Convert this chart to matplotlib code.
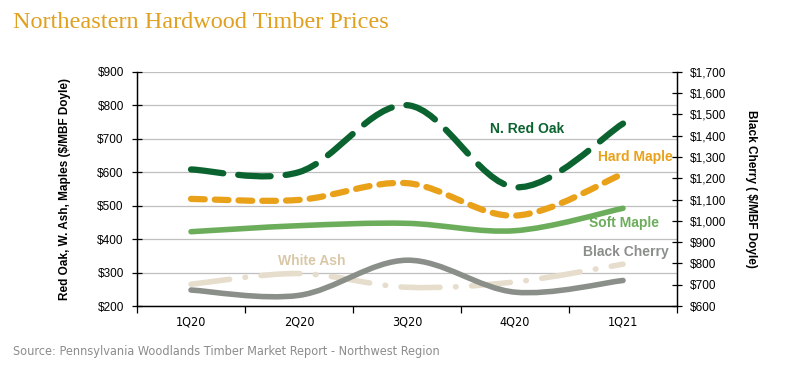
import matplotlib
matplotlib.use('Agg')
import matplotlib.pyplot as plt
import numpy as np
from matplotlib.path import Path
from matplotlib.patches import PathPatch
from matplotlib.ticker import FixedLocator, FuncFormatter

# datos
quarters = ['1Q20', '2Q20', '3Q20', '4Q20', '1Q21']
red_oak = [608, 600, 800, 555, 745]
hard_maple = [520, 517, 567, 470, 595]
soft_maple = [422, 440, 447, 425, 492]
white_ash = [265, 297, 256, 272, 325]
black_cherry = [675, 650, 815, 665, 720]  # eje derecho

# estilos
C_OAK = '#0B6430'
C_HARD = '#E9A11A'
C_SOFT = '#6CAD5C'
C_ASH = '#E6DDCC'
C_CHERRY = '#8A8F8A'

plt.rcParams['font.family'] = ['Liberation Sans', 'DejaVu Sans']


# curva suavizada tipo Excel (bezier tipo catmull-rom)
def smooth_path(ys):
    xs = np.arange(1, len(ys) + 1, dtype=float)
    pts = np.column_stack([xs, np.asarray(ys, dtype=float)])
    p = np.vstack([pts[0], pts, pts[-1]])
    verts = [pts[0]]
    codes = [Path.MOVETO]
    for i in range(1, len(pts)):
        p0, p1, p2, p3 = p[i - 1], p[i], p[i + 1], p[i + 2]
        verts += [p1 + (p2 - p0) / 6, p2 - (p3 - p1) / 6, p2]
        codes += [Path.CURVE4] * 3
    return Path(verts, codes)


def draw(ax, ys, color, lw, dashes=None):
    patch = PathPatch(smooth_path(ys), fill=False, edgecolor=color, lw=lw,
                      capstyle='round', joinstyle='round')
    if dashes:
        patch.set_linestyle((0, dashes))
    ax.add_patch(patch)


fig = plt.figure(figsize=(7.98, 3.69), dpi=100)
ax = fig.add_axes([0.1717, 0.1707, 0.6767, 0.635])
ax2 = ax.twinx()

ax.set_xlim(0.5, 5.5)
ax.set_ylim(200, 900)
ax2.set_ylim(600, 1700)

ax.yaxis.set_major_locator(FixedLocator(range(200, 901, 100)))
ax2.yaxis.set_major_locator(FixedLocator(range(600, 1701, 100)))
ax.yaxis.set_major_formatter(FuncFormatter(lambda v, p: '${:,.0f}'.format(v)))
ax2.yaxis.set_major_formatter(FuncFormatter(lambda v, p: '${:,.0f}'.format(v)))
ax.grid(axis='y', color='#BFBFBF', lw=0.9)
ax.set_axisbelow(True)

ax.xaxis.set_major_locator(FixedLocator(np.arange(0.5, 5.6, 1)))
ax.xaxis.set_minor_locator(FixedLocator(range(1, 6)))
ax.set_xticklabels([''] * 6)
ax.set_xticklabels(quarters, minor=True, fontstretch='condensed',
                   family='DejaVu Sans')
ax.tick_params(axis='x', which='major', direction='out', length=5, width=0.9)
ax.tick_params(axis='x', which='minor', length=0, pad=7, labelsize=9)
ax.tick_params(axis='y', direction='inout', length=7, width=0.9, labelsize=8.5, pad=6)
ax2.tick_params(axis='y', direction='inout', length=7, width=0.9, labelsize=8.5, pad=6)

for a in (ax, ax2):
    a.spines['top'].set_visible(False)
    for s in ('left', 'right', 'bottom'):
        a.spines[s].set_linewidth(0.9)

draw(ax, white_ash, C_ASH, 4, [7, 2.8, 0.1, 2.8])
draw(ax, soft_maple, C_SOFT, 4)
draw(ax, hard_maple, C_HARD, 4.5, [2.2, 1.6])
draw(ax, red_oak, C_OAK, 4.5, [5.2, 2.4])
draw(ax2, black_cherry, C_CHERRY, 4)

# etiquetas de series
lbl = dict(fontsize=10, fontweight='bold')
ax.text(4.11, 728, 'N. Red Oak', color=C_OAK, ha='center', va='center', **lbl)
ax.text(5.46, 644, 'Hard Maple', color=C_HARD, ha='right', va='center', **lbl)
ax.text(5.01, 447, 'Soft Maple', color=C_SOFT, ha='center', va='center', **lbl)
ax.text(5.42, 360, 'Black Cherry', color=C_CHERRY, ha='right', va='center', **lbl)
ax.text(2.12, 333, 'White Ash', color='#D9C8A8', ha='center', va='center', **lbl)

ax.set_ylabel('Red Oak, W. Ash, Maples ($/MBF Doyle)', fontsize=8.5,
              fontweight='bold', labelpad=19)
ax2.set_ylabel('Black Cherry ( $/MBF Doyle)', fontsize=8.5, fontweight='bold',
               rotation=-90, labelpad=22)

fig.text(0.016, 0.925, 'Northeastern Hardwood Timber Prices', color='#E0A020',
         fontsize=17.5, family='Liberation Serif', va='baseline')
fig.text(0.016, 0.038, 'Source: Pennsylvania Woodlands Timber Market Report - Northwest Region',
         color='#8C8C8C', fontsize=9.1, family='DejaVu Sans', fontstretch='condensed')

fig.savefig('out.png', dpi=100)
